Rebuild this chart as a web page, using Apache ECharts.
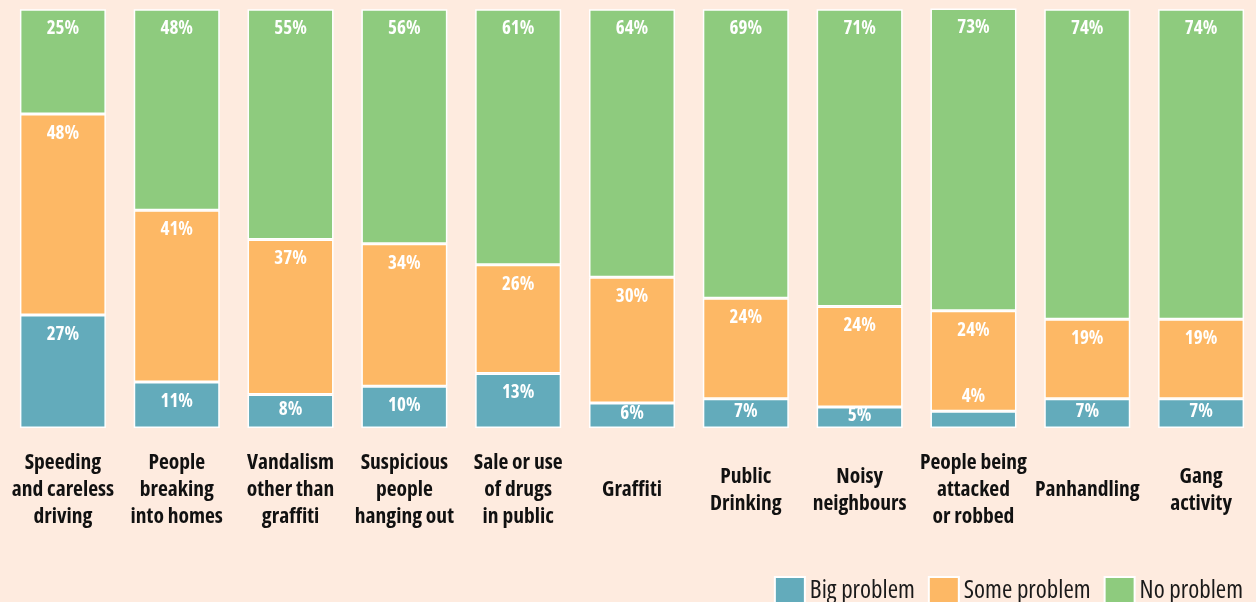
<!DOCTYPE html>
<html>
<head>
<meta charset="utf-8">
<script src="https://cdn.jsdelivr.net/npm/echarts@6/dist/echarts.min.js"></script>
<style>
  html, body { margin: 0; padding: 0; background: #feebdf; }
  #chart { width: 1256px; height: 602px; }
</style>
</head>
<body>
<div id="chart"></div>
<script>
// Neighbourhood problems survey: share of respondents per answer
const categories = [
  'Speeding\nand careless\ndriving',
  'People\nbreaking\ninto homes',
  'Vandalism\nother than\ngraffiti',
  'Suspicious\npeople\nhanging out',
  'Sale or use\nof drugs\nin public',
  'Graffiti',
  'Public\nDrinking',
  'Noisy\nneighbours',
  'People being\nattacked\nor robbed',
  'Panhandling',
  'Gang\nactivity'
];
const bigProblem  = [27, 11, 8, 10, 13, 6, 7, 5, 4, 7, 7];
const someProblem = [48, 41, 37, 34, 26, 30, 24, 24, 24, 19, 19];
const noProblem   = [25, 48, 55, 56, 61, 64, 69, 71, 73, 74, 74];

// Condensed face of Open Sans (picked through font-stretch in the canvas font string)
const FONT = "'Open Sans', sans-serif";
const STRETCH = 'condensed';

// Label placement by segment size: tiny segments put it above,
// short ones centre it, the rest hang it from the segment's top.
function item(v) {
  if (v < 5) return { value: v, label: { position: 'top', distance: 5 } };
  if (v < 10) return { value: v, label: { position: 'inside', offset: [0, -2] } };
  return v;
}

function seriesOf(name, data, color) {
  return {
    name: name,
    type: 'bar',
    stack: 'total',
    barWidth: 86,
    data: data.map(item),
    itemStyle: { color: color, borderColor: '#ffffff', borderWidth: 1.5 },
    label: {
      show: true,
      position: 'insideTop',
      distance: 10,
      formatter: '{c}%',
      color: '#ffffff',
      fontStyle: STRETCH,
      fontFamily: FONT,
      fontWeight: 'bold',
      fontSize: 19
    },
    emphasis: { disabled: true }
  };
}

const chart = echarts.init(document.getElementById('chart'), null, { renderer: 'canvas' });
chart.setOption({
  backgroundColor: '#feebdf',
  animation: false,
  grid: {
    left: 6, right: -2, top: 9.3, bottom: 174,
    containLabel: false,
    outerBoundsMode: 'none'
  },
  legend: {
    right: 13,
    top: 576,
    padding: 0,
    itemWidth: 30,
    itemHeight: 28,
    itemGap: 13,
    icon: 'rect',
    textStyle: {
      fontStyle: STRETCH,
      fontFamily: FONT,
      fontSize: 25, color: '#1a1a1a', padding: [0, 0, 0, 0]
    },
    data: ['Big problem', 'Some problem', 'No problem']
  },
  xAxis: {
    type: 'category',
    data: categories,
    axisLine: { show: false },
    axisTick: { show: false },
    axisLabel: {
      interval: 0,
      margin: 62,
      verticalAlign: 'middle',
      color: '#111111',
      fontStyle: STRETCH,
      fontFamily: FONT,
      fontWeight: 'bold',
      fontSize: 21.5,
      lineHeight: 27
    }
  },
  yAxis: {
    type: 'value',
    min: 0,
    max: 100,
    show: false,
    splitLine: { show: false }
  },
  series: [
    seriesOf('Big problem', bigProblem, '#63abbb'),
    seriesOf('Some problem', someProblem, '#fdb865'),
    seriesOf('No problem', noProblem, '#8ecb7e')
  ]
});
</script>
</body>
</html>
